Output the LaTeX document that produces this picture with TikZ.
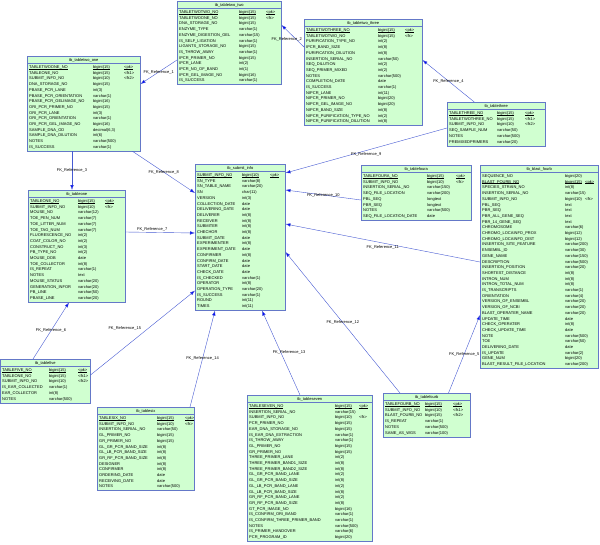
\documentclass[tikz,border=0pt]{standalone}
\usepackage{fontspec}
\setmainfont{Liberation Sans}
\usetikzlibrary{arrows.meta,calc}

\definecolor{tblfill}{RGB}{208,255,208}
\definecolor{tbledge}{RGB}{100,120,200}
\definecolor{fkblue}{RGB}{70,90,210}

\newcommand{\tblfont}{\fontsize{4}{4.8}\selectfont}
\newcommand{\pkline}[1]{\setbox0\hbox{#1}\rlap{\rule[-0.45pt]{\wd0}{0.25pt}}\box0}

\tikzset{
  tblbox/.style={draw=tbledge, fill=tblfill, line width=0.5pt, inner sep=0pt},
  cell/.style={anchor=base west, inner sep=0pt, font=\tblfont},
  tbltitle/.style={anchor=base, inner sep=0pt, font=\tblfont},
  fk/.style={draw=fkblue, line width=0.4pt, -{Latex[length=5pt,width=3.5pt,fill=blue]}},
  fklabel/.style={font=\tblfont, inner sep=0.5pt},
}

% #1 name, #2 top left, #3 width, #4 rows, #5 type col, #6 key col, #7 pk row, #8 title, #9 columns
\newcommand{\dbtable}[9]{%
  \node[tblbox, anchor=north west, minimum width=#3pt, minimum height={(9.3+#4*5.7)*1pt}] (#1) at #2 {};
  \node[tbltitle] (#1-title) at ($(#1.north)+(0,5.8)$) {#8};
  \draw[tbledge, line width=0.4pt] ($(#1.north west)+(0,7.5)$) -- ($(#1.north east)+(0,7.5)$);
  \foreach \cn/\ct/\ck [count=\i] in {#9}{
    \ifnum\i=#7\relax \let\u\pkline \else \let\u\relax \fi
    \node[cell] (#1-n\i) at ($(#1.north west)+(2,{6.8+\i*5.7})$) {\u{\cn}};
    \node[cell] (#1-t\i) at ($(#1.north west)+(#5,{6.8+\i*5.7})$) {\u{\ct}};
    \node[cell] (#1-k\i) at ($(#1.north west)+(#6,{6.8+\i*5.7})$) {\u{\ck}};
  }
}

\begin{document}
\begin{tikzpicture}[x=1pt, y=-1pt]
\useasboundingbox (0,0) rectangle (600,544);

% tables
\dbtable{twotwo}{(177,1)}{104}{13}{62}{89}{1}{tb\_tabletwo\_two}{
  TABLETWOTWO\_NO/bigint(15)/<pk>, TABLETWOONE\_NO/bigint(15)/<fk>,
  DNA\_STORAGE\_NO/bigint(15)/, ENZYME\_TYPE/varchar(1)/,
  ENZYME\_DIGESTION\_GEL/varchar(15)/, IS\_SELF\_LIGATION/varchar(1)/,
  LIGANTS\_STORAGE\_NO/bigint(15)/, IS\_THROW\_AWAY/varchar(1)/,
  IPCR\_PRIMER\_NO/bigint(15)/, IPCR\_LANE/int(2)/, IPCR\_NO\_OF\_BAND/int(1)/,
  IPCR\_GEL\_IMAGE\_NO/bigint(16)/, IS\_SUCCESS/varchar(1)/}

\dbtable{twoone}{(27,56)}{113}{15}{66}{97}{1}{tb\_tabletwo\_one}{
  TABLETWOONE\_NO/bigint(15)/<pk>, TABLEONE\_NO/bigint(15)/<fk1>,
  SUBMIT\_INFO\_NO/bigint(10)/<fk2>, DNA\_STORAGE\_NO/bigint(15)/,
  PBASE\_PCR\_LANE/int(3)/, PBASE\_PCR\_ORIENTATION/varchar(1)/,
  PBASE\_PCR\_GELIMAGE\_NO/bigint(16)/, ORI\_PCR\_PRIMER\_NO/bigint(15)/,
  ORI\_PCR\_LANE/int(3)/, ORI\_PCR\_ORIENTATION/varchar(1)/,
  ORI\_PCR\_GEL\_IMAGE\_NO/bigint(16)/, SAMPLE\_DNA\_OD/{decimal(6,3)}/,
  SAMPLE\_DNA\_DILUTION/int(6)/, NOTES/varchar(500)/, IS\_SUCCESS/varchar(1)/}

\dbtable{twothree}{(304,19)}{118}{17}{74}{101}{1}{tb\_tabletwo\_three}{
  TABLETWOTHREE\_NO/bigint(15)/<pk>, TABLETWOTWO\_NO/bigint(15)/<fk>,
  PURIFICATION\_TYPE\_NO/int(2)/, IPCR\_BAND\_SIZE/int(8)/,
  PURIFICATION\_DILUTION/int(8)/, INSERTION\_SERIAL\_NO/varchar(50)/,
  SEQ\_DILUTION/int(2)/, SEQ\_PRIMER\_MIXED/int(2)/, NOTES/varchar(500)/,
  COMPLETION\_DATE/date/, IS\_SUCCESS/varchar(1)/, NIPCR\_LANE/int(11)/,
  NIPCR\_PRIMER\_NO/bigint(20)/, NIPCR\_GEL\_IMAGE\_NO/bigint(20)/,
  NIPCR\_BAND\_SIZE/int(8)/, NIPCR\_PURIFICATION\_TYPE\_NO/int(2)/,
  NIPCR\_PURIFICATION\_DILUTION/int(8)/}

\dbtable{three}{(447,102)}{98}{6}{50}{78}{1}{tb\_tablethree}{
  TABLETHREE\_NO/bigint(15)/<pk>, TABLETWOTHREE\_NO/bigint(15)/<fk1>,
  SUBMIT\_INFO\_NO/bigint(10)/<fk2>, SEQ\_SAMPLE\_NUM/varchar(50)/,
  NOTES/varchar(500)/, PREMIXEDPRIMERS/varchar(20)/}

\dbtable{submit}{(195,164)}{90}{24}{47}{75}{1}{tb\_submit\_info}{
  SUBMIT\_INFO\_NO/bigint(10)/<pk>, SN\_TYPE/varchar(8)/,
  SN\_TABLE\_NAME/varchar(20)/, SN/char(11)/, VERSION/int(3)/,
  COLLECTION\_DATE/date/, DELIVERING\_DATE/date/, DELIVERER/int(8)/,
  RECEIVER/int(8)/, SUBMITER/int(8)/, CHECHOR/int(8)/, SUBMIT\_DATE/date/,
  EXPERIMENTER/int(8)/, EXPERIMENT\_DATE/date/, CONFIRMER/int(8)/,
  CONFIRM\_DATE/date/, START\_DATE/date/, CHECK\_DATE/date/,
  IS\_CHECKED/varchar(1)/, OPERATOR/int(8)/, OPERATION\_TYPE/varchar(20)/,
  IS\_SUCCESS/varchar(1)/, ROUND/int(11)/, TIMES/int(11)/}

\dbtable{foura}{(361,165)}{110}{8}{66}{95}{1}{tb\_tablefoura}{
  TABLEFOURA\_NO/bigint(15)/<pk>, SUBMIT\_INFO\_NO/bigint(10)/<fk>,
  INSERTION\_SERIAL\_NO/varchar(150)/, SEQ\_FILE\_LOCATION/varchar(200)/,
  PBL\_SEQ/longtext/, PBR\_SEQ/longtext/, NOTES/varchar(500)/,
  SEQ\_FILE\_LOCATION\_DATE/date/}

\dbtable{blast}{(480,165)}{118}{34}{85}{105}{2}{tb\_blast\_fourb}{
  SEQUENCE\_NO/bigint(20)/, BLAST\_FOURB\_NO/bigint(15)/<pk>,
  SPECIES\_STRAIN\_NO/int(8)/, INSERTION\_SERIAL\_NO/varchar(15)/,
  SUBMIT\_INFO\_NO/bigint(10)/<fk>, PBL\_SEQ/text/, PBR\_SEQ/text/,
  PBR\_ALL\_GENE\_SEQ/text/, PBR\_14\_GENE\_SEQ/text/, CHROMOSOME/varchar(6)/,
  CHROMO\_LOCAINFO\_PROX/bigint(12)/, CHROMO\_LOCAINFO\_DIST/bigint(12)/,
  INSERTION\_SITE\_FEATURE/varchar(200)/, ENSEMBL\_ID/varchar(30)/,
  GENE\_NAME/varchar(150)/, DESCRIPTION/varchar(500)/,
  INSERTION\_POSITION/varchar(20)/, SHORTEST\_DISTANCE/int(8)/,
  INTRON\_NUM/int(8)/, INTRON\_TOTAL\_NUM/int(8)/, IS\_TRANSCRIPTS/varchar(1)/,
  ORIENTATION/varchar(4)/, VERSION\_OF\_ENSEMBL/varchar(20)/,
  VERSION\_OF\_NCBI/varchar(20)/, BLAST\_OPERATER\_NAME/varchar(20)/,
  UPDATE\_TIME/date/, CHECK\_OPERATER/int(8)/, CHECK\_UPDATE\_TIME/date/,
  NOTE/varchar(500)/, TOE/varchar(50)/, DELIVERING\_DATE/date/,
  IS\_UPDATE/varchar(2)/, GENE\_NUM/bigint(20)/,
  BLAST\_RESULT\_FILE\_LOCATION/varchar(200)/}

\dbtable{one}{(28,190)}{97}{18}{50}{77}{1}{tb\_tableone}{
  TABLEONE\_NO/bigint(15)/<pk>, SUBMIT\_INFO\_NO/bigint(10)/<fk>,
  MOUSE\_NO/varchar(12)/, TOE\_PEN\_NUM/varchar(7)/, TOE\_LITTER\_NUM/varchar(7)/,
  TOE\_TAG\_NUM/varchar(7)/, FLUORESCENCE\_NO/int(2)/, COAT\_COLOR\_NO/int(2)/,
  CONSTRUCT\_NO/int(3)/, PB\_TYPE\_NO/int(2)/, MOUSE\_DOB/date/,
  TOE\_COLLECTOR/int(8)/, IS\_REPEAT/varchar(1)/, NOTES/text/,
  MOUSE\_STATUS/varchar(20)/, GENERATION\_INFOR/varchar(20)/,
  PB\_LINE/varchar(50)/, PBASE\_LINE/varchar(20)/}

\dbtable{five}{(0,359)}{90}{6}{49}{78}{1}{tb\_tablefive}{
  TABLEFIVE\_NO/bigint(15)/<pk>, TABLEONE\_NO/bigint(15)/<fk1>,
  SUBMIT\_INFO\_NO/bigint(10)/<fk2>, IS\_EAR\_COLLECTED/varchar(1)/,
  EAR\_COLLECTOR/int(8)/, NOTES/varchar(500)/}

\dbtable{six}{(97,407)}{97}{13}{60}{88}{1}{tb\_tablesix}{
  TABLESIX\_NO/bigint(15)/<pk>, SUBMIT\_INFO\_NO/bigint(10)/<fk>,
  INSERTION\_SERIAL\_NO/varchar(50)/, GL\_PRIMER\_NO/bigint(15)/,
  GR\_PRIMER\_NO/bigint(15)/, GL\_GR\_PCR\_BAND\_SIZE/int(8)/,
  GL\_LB\_PCR\_BAND\_SIZE/int(8)/, GR\_RF\_PCR\_BAND\_SIZE/int(8)/,
  DESIGNER/int(8)/, CONFIRMER/int(8)/, ORDERING\_DATE/date/,
  RECEIVING\_DATE/date/, NOTES/varchar(500)/}

\dbtable{seven}{(247,395)}{125}{24}{88}{112}{1}{tb\_tableseven}{
  TABLESEVEN\_NO/bigint(15)/<pk>, INSERTION\_SERIAL\_NO/varchar(15)/,
  SUBMIT\_INFO\_NO/bigint(10)/<fk>, PCR\_PRIMER\_NO/bigint(15)/,
  EAR\_DNA\_STORAGE\_NO/bigint(15)/, IS\_EAR\_DNA\_EXTRACTION/varchar(1)/,
  IS\_THROW\_AWAY/varchar(1)/, GL\_PRIMER\_NO/bigint(15)/,
  GR\_PRIMER\_NO/bigint(15)/, THREE\_PRIMER\_LANE/int(2)/,
  THREE\_PRIMER\_BAND1\_SIZE/int(8)/, THREE\_PRIMER\_BAND2\_SIZE/int(8)/,
  GL\_GR\_PCR\_BAND\_LANE/int(2)/, GL\_GR\_PCR\_BAND\_SIZE/int(8)/,
  GL\_LB\_PCR\_BAND\_LANE/int(2)/, GL\_LB\_PCR\_BAND\_SIZE/int(8)/,
  GR\_RF\_PCR\_BAND\_LANE/int(2)/, GR\_RF\_PCR\_BAND\_SIZE/int(8)/,
  GT\_PCR\_IMAGE\_NO/bigint(16)/, IS\_CONFIRM\_ORI\_BAND/varchar(1)/,
  IS\_CONFIRM\_THREE\_PRIMER\_BAND/varchar(1)/, NOTES/varchar(500)/,
  IS\_PRIMER\_HANDOVER/varchar(6)/, PCR\_PROGRAM\_ID/bigint(20)/}

\dbtable{fourb}{(383,393)}{87}{6}{42}{70}{1}{tb\_tablefourb}{
  TABLEFOURB\_NO/bigint(15)/<pk>, SUBMIT\_INFO\_NO/bigint(10)/<fk1>,
  BLAST\_FOURB\_NO/bigint(15)/<fk2>, IS\_REPEAT/varchar(1)/,
  NOTES/varchar(500)/, SAME\_AS\_WGS/varchar(100)/}

% references
\draw[fk] ([yshift=-59pt]twotwo.north west) -- node[fklabel] {FK\_Reference\_1} ([yshift=-28pt]twoone.north east);
\draw[fk] ([yshift=-28pt]twothree.north west) -- node[fklabel, xshift=-6pt, yshift=-3pt] {FK\_Reference\_2} ([yshift=-24pt]twotwo.north east);
\draw[fk] ([xshift=-22pt]three.north) -- node[fklabel] {FK\_Reference\_4} ([yshift=-41pt]twothree.north east);
\draw[fk] ([yshift=-26pt]three.north west) -- node[fklabel, yshift=-4pt] {FK\_Reference\_9} ([yshift=-9pt]submit.north east);
\draw[fk] ([yshift=-35pt]foura.north west) -- node[fklabel] {FK\_Reference\_10} ([yshift=-26pt]submit.north east);
\draw[fk] ([yshift=-97pt]blast.north west) -- node[fklabel, yshift=-4pt] {FK\_Reference\_11} ([yshift=-60pt]submit.north east);
\draw[fk] ([xshift=17pt]fourb.north west) -- node[fklabel] {FK\_Reference\_12} ([yshift=-88pt]submit.north east);
\draw[fk] ([xshift=-22pt]fourb.north east) -- node[fklabel] {FK\_Reference\_5} ([yshift=-150pt]blast.north west);
\draw[fk] ([xshift=-8pt]twoone.south east) -- node[fklabel] {FK\_Reference\_8} ([yshift=-29pt]submit.north west);
\draw[fk] ([xshift=45pt]twoone.south west) -- node[fklabel] {FK\_Reference\_3} ([xshift=44pt]one.north west);
\draw[fk] ([yshift=-42pt]one.north east) -- node[fklabel, xshift=-8pt, yshift=3pt] {FK\_Reference\_7} ([yshift=-69pt]submit.north west);
\draw[fk] ([xshift=33pt]five.north west) -- node[fklabel] {FK\_Reference\_6} ([xshift=41pt]one.south west);
\draw[fk] ([yshift=-16pt]five.north east) -- node[fklabel, xshift=-18pt, yshift=4pt] {FK\_Reference\_15} ([yshift=20pt]submit.south west);
\draw[fk] ([xshift=93pt]six.north west) -- node[fklabel] {FK\_Reference\_14} ([xshift=20pt]submit.south west);
\draw[fk] ([xshift=53pt]seven.north west) -- node[fklabel, xshift=8pt] {FK\_Reference\_13} ([xshift=67pt]submit.south west);
\end{tikzpicture}
\end{document}
